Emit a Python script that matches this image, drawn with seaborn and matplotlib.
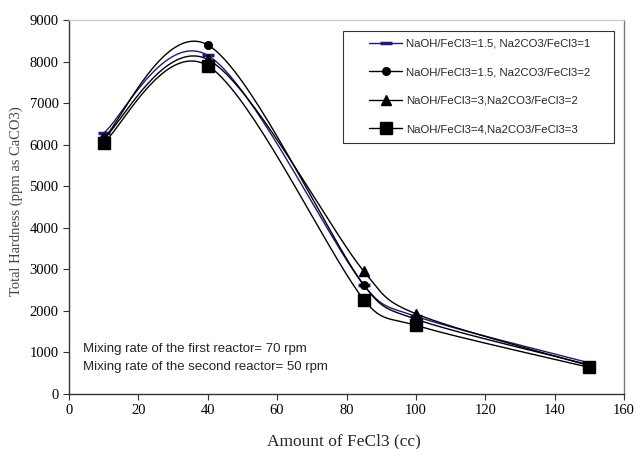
import numpy as np
import pandas as pd
import matplotlib
matplotlib.use("Agg")
import matplotlib.pyplot as plt
from matplotlib.lines import Line2D
from matplotlib.patches import Rectangle
import seaborn as sns

# FeCl3 dose (cc)
fecl3 = [10, 40, 85, 100, 150]

# total hardness (ppm as CaCO3)
hard_15_1 = [6280, 8150, 2620, 1870, 750]
hard_15_2 = [6150, 8400, 2620, 1800, 700]
hard_3_2 = [6150, 8050, 2950, 1930, 680]
hard_4_3 = [6050, 7900, 2270, 1650, 640]

labels = [
    'NaOH/FeCl3=1.5, Na2CO3/FeCl3=1',
    'NaOH/FeCl3=1.5, Na2CO3/FeCl3=2',
    'NaOH/FeCl3=3,Na2CO3/FeCl3=2',
    'NaOH/FeCl3=4,Na2CO3/FeCl3=3',
]

SANS = 'Liberation Sans'
SERIF = 'Liberation Serif'

W, H = 637, 449
AX_L, AX_R, AX_T, AX_B = 69, 624, 20, 394


def smooth_curve(xs, ys, n=40):
    # excel-like smoothed line: catmull-rom bezier, worked out in pixel space
    # with the control arm clamped to half the segment length
    sx = (AX_R - AX_L) / 160.0
    sy = (AX_B - AX_T) / 9000.0
    pts = np.column_stack([np.array(xs) * sx, np.array(ys) * sy]).astype(float)
    pad = np.vstack([pts[0], pts, pts[-1]])
    out = []
    t = np.linspace(0, 1, n)[:, None]
    for i in range(len(pts) - 1):
        p0, p1, p2, p3 = pad[i], pad[i + 1], pad[i + 2], pad[i + 3]
        seg_len = np.linalg.norm(p2 - p1)
        a1 = (p2 - p0) / 6
        a2 = (p3 - p1) / 6
        for a in (a1, a2):
            ln = np.linalg.norm(a)
            if ln > 0.5 * seg_len:
                a *= 0.5 * seg_len / ln
        c1 = p1 + a1
        c2 = p2 - a2
        seg = ((1 - t) ** 3) * p1 + 3 * ((1 - t) ** 2) * t * c1 \
            + 3 * (1 - t) * t ** 2 * c2 + t ** 3 * p2
        out.append(seg if i == 0 else seg[1:])
    seg = np.vstack(out)
    return pd.DataFrame({'x': seg[:, 0] / sx, 'y': seg[:, 1] / sy})


sns.set_style('white')
plt.rcParams['font.family'] = SERIF

fig = plt.figure(figsize=(W / 100, H / 100), dpi=100)
ax = fig.add_axes([AX_L / W, 1 - AX_B / H, (AX_R - AX_L) / W, (AX_B - AX_T) / H])

series = [
    (hard_15_1, '#1a1a80', dict(marker='_', ms=8, mew=2.5)),
    (hard_15_2, 'black', dict(marker='o', ms=5.5)),
    (hard_3_2, 'black', dict(marker='^', ms=6.5)),
    (hard_4_3, 'black', dict(marker='s', ms=8.5)),
]

handles = []
for (vals, col, mk), lab in zip(series, labels):
    curve = smooth_curve(fecl3, vals)
    sns.lineplot(data=curve, x='x', y='y', sort=False, estimator=None,
                 color=col, lw=1.0, ax=ax)
    ax.plot(fecl3, vals, ls='none', color=col, mec=col, **mk)
    handles.append(Line2D([], [], color=col, lw=1.0, **mk))

ax.set_xlim(0, 160)
ax.set_ylim(0, 9000)
ax.set_xticks(range(0, 161, 20))
ax.set_yticks(range(0, 9001, 1000))
ax.tick_params(direction='out', length=4, width=0.8, colors='#333333',
               labelsize=10.5, labelcolor='black', left=True, bottom=True)

for side in ['left', 'bottom']:
    ax.spines[side].set_color('#333333')
    ax.spines[side].set_linewidth(1.0)
ax.spines['right'].set_color('#777777')
ax.spines['right'].set_linewidth(1.0)
ax.spines['top'].set_color('#cccccc')
ax.spines['top'].set_linewidth(1.0)

ax.set_xlabel('Amount of FeCl3 (cc)', fontsize=12.5)
ax.xaxis.set_label_coords((344 - AX_L) / (AX_R - AX_L), -(441 - AX_B) / (AX_B - AX_T))
ax.xaxis.label.set_va('center')
ax.set_ylabel('Total Hardness (ppm as CaCO3)', fontsize=10.5, color='#444444')
ax.yaxis.set_label_coords(-(AX_L - 16) / (AX_R - AX_L), (AX_B - 201) / (AX_B - AX_T))
ax.yaxis.label.set_va('center')

# legend box drawn as a plain rectangle, entries placed inside it
fig.patches.append(Rectangle((343 / W, 1 - 143 / H), (614 - 343) / W, (143 - 31) / H,
                             transform=fig.transFigure, fill=False,
                             edgecolor='#333333', lw=0.8))
leg = fig.legend(handles, labels, loc='upper left',
                 bbox_to_anchor=(369 / W, 1 - 39 / H), frameon=False,
                 prop={'family': SANS, 'size': 8.2}, handlelength=2.9,
                 labelspacing=1.62, borderpad=0, borderaxespad=0,
                 handletextpad=0.35)

for txt, ypix in [('Mixing rate of the first reactor= 70 rpm', 349),
                  ('Mixing rate of the second reactor= 50 rpm', 367)]:
    ax.text((83 - AX_L) / (AX_R - AX_L), (AX_B - ypix) / (AX_B - AX_T), txt,
            transform=ax.transAxes, family=SANS, fontsize=9.5,
            va='center', ha='left')

fig.savefig('out.png', dpi=100)
